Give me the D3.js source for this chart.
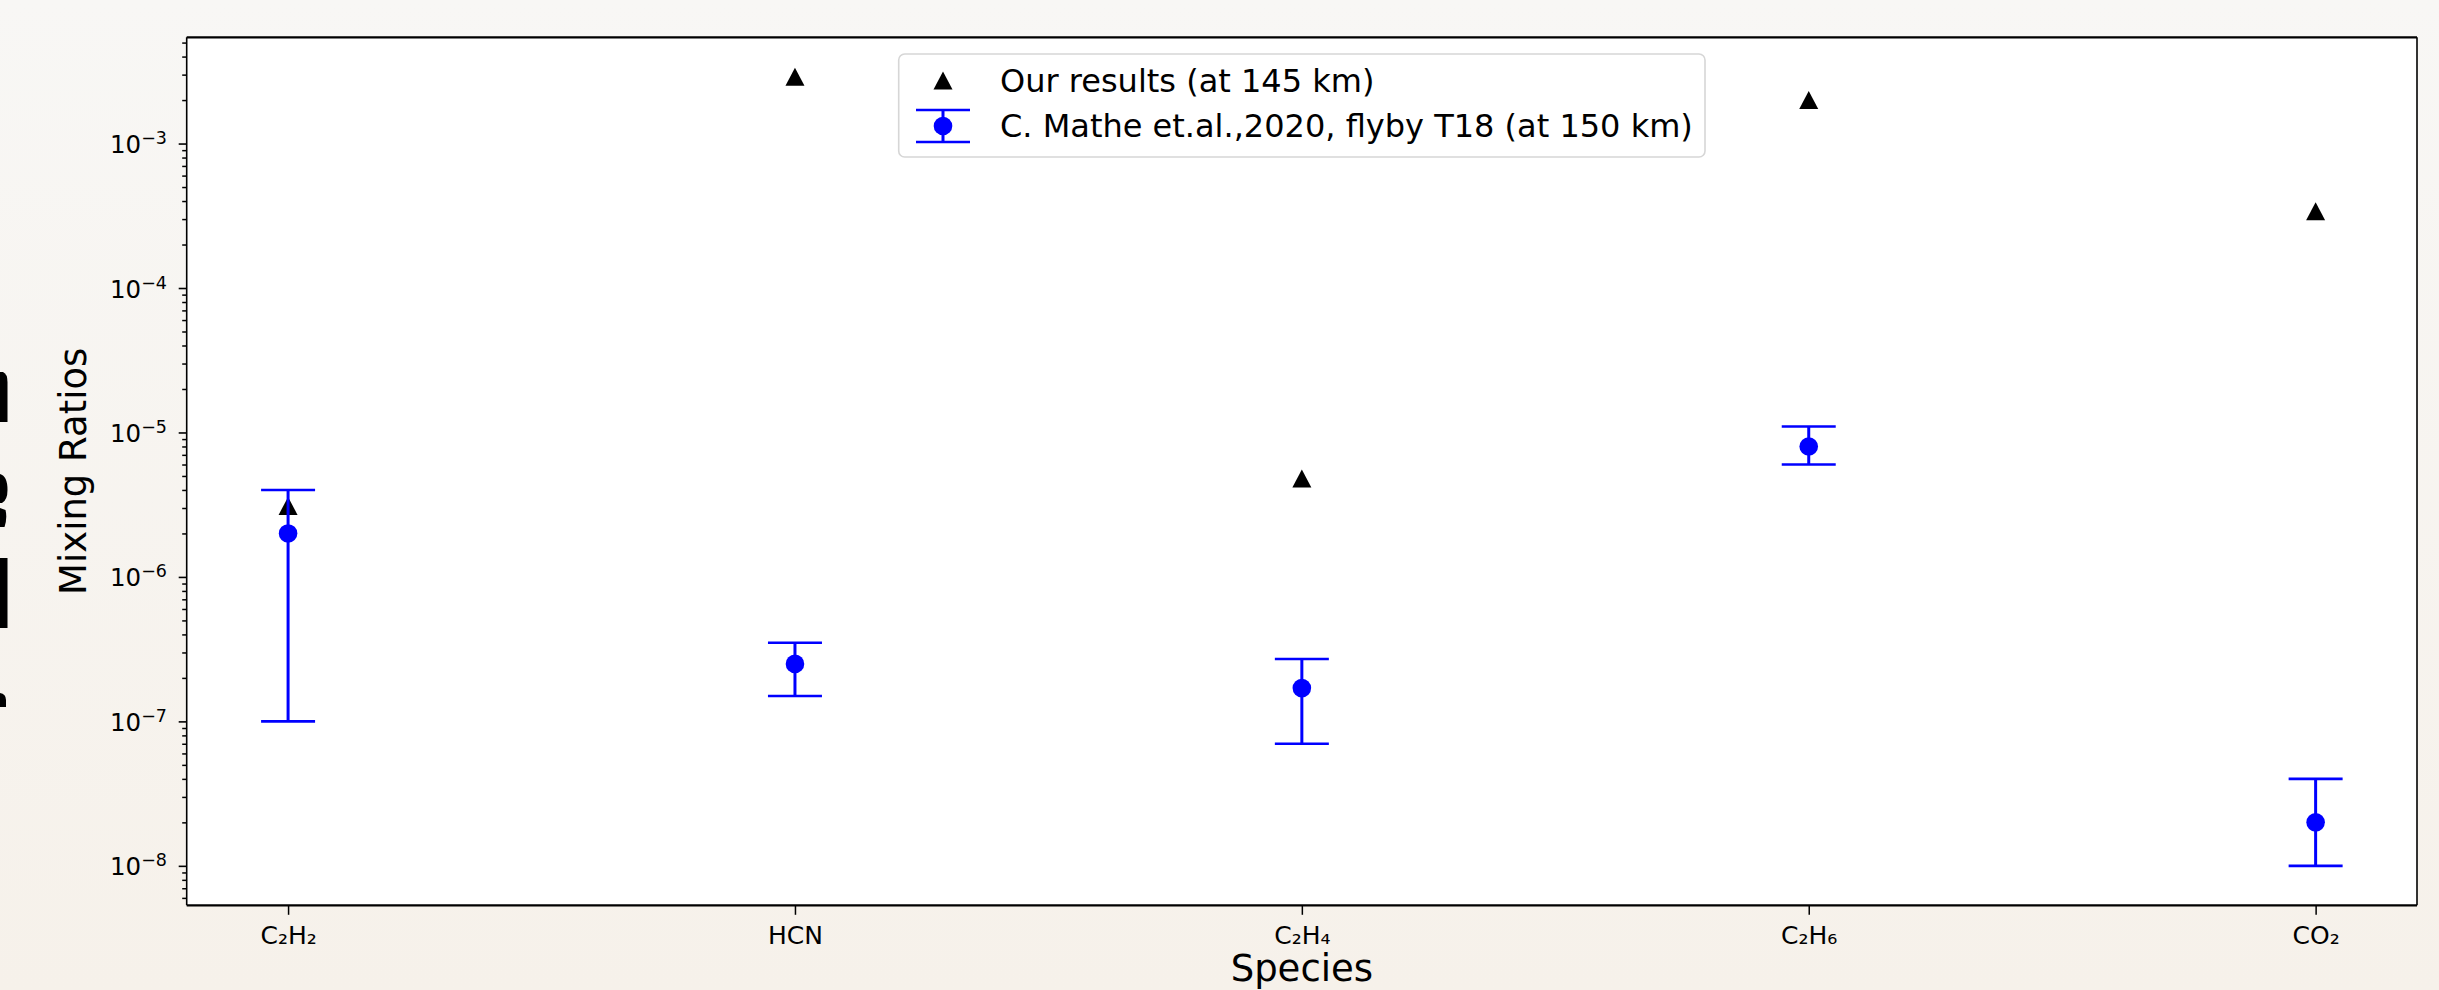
<!DOCTYPE html>
<html>
<head>
<meta charset="utf-8">
<script src="https://cdn.jsdelivr.net/npm/d3@7"></script>
<style>
  html, body { margin: 0; padding: 0; overflow: hidden; background: #f7f4ef; }
  svg { display: block; font-family: "DejaVu Sans", sans-serif; }
</style>
</head>
<body>
<svg id="chart" width="2439" height="990"></svg>
<script>
// ---- data -------------------------------------------------------------
const species = ["C₂H₂", "HCN", "C₂H₄", "C₂H₆", "CO₂"];
// model mixing ratios at 145 km
const ourResults = [3.1e-6, 2.9e-3, 4.8e-6, 2.0e-3, 3.4e-4];
// Mathé et al. 2020, flyby T18, 150 km: central value and error range
const matheValues = [2.0e-6, 2.5e-7, 1.7e-7, 8.0e-6, 2.0e-8];
const matheLower  = [1.0e-7, 1.5e-7, 7.0e-8, 6.0e-6, 1.0e-8];
const matheUpper  = [4.0e-6, 3.5e-7, 2.7e-7, 1.1e-5, 4.0e-8];
const yTickExponents = [-8, -7, -6, -5, -4, -3];
const legendLabels = ["Our results (at 145 km)", "C. Mathe et.al.,2020, flyby T18 (at 150 km)"];
const xTitle = "Species";
const yTitle = "Mixing Ratios";

// ---- layout -----------------------------------------------------------
const W = 2439, H = 990;
const plot = { left: 186.7, right: 2417, top: 37.3, bottom: 905.3 };
const BLUE = "#0000ff";

const svg = d3.select("#chart");
const defs = svg.append("defs");
const bg = defs.append("linearGradient").attr("id", "bg")
  .attr("x1", 0).attr("y1", 0).attr("x2", 0).attr("y2", 1);
bg.append("stop").attr("offset", "0%").attr("stop-color", "#f8f7f5");
bg.append("stop").attr("offset", "100%").attr("stop-color", "#f6f1ea");
svg.append("rect").attr("width", W).attr("height", H).attr("fill", "url(#bg)");

// fragment of a large dark heading bleeding in at the left edge
const edge = svg.append("g").attr("fill", "#000");
edge.append("path").attr("d", "M0,372 L3,372 Q7.5,374 7.5,382 L7.5,422 L0,422 Z");
edge.append("path").attr("d", "M0,474 Q7.5,476 7.5,490 Q7.5,500 2,503 L0,503 Z M0,508 L5.5,510 Q7.5,518 4.5,527 L0,527 Z");
edge.append("rect").attr("x", 0).attr("y", 558).attr("width", 7.5).attr("height", 70);
edge.append("path").attr("d", "M0,693 Q6,694 6,700 L6,707 L0,707 Z");

// axes background
svg.append("rect")
  .attr("x", plot.left).attr("y", plot.top)
  .attr("width", plot.right - plot.left).attr("height", plot.bottom - plot.top)
  .attr("fill", "#ffffff");

// ---- scales -----------------------------------------------------------
const x = d3.scalePoint().domain(species).range([plot.left, plot.right]).padding(0.2);

const logLo = Math.log10(d3.min(matheLower));
const logHi = Math.log10(d3.max([...ourResults, ...matheUpper]));
const margin = (logHi - logLo) * 0.05;
const y = d3.scaleLog()
  .domain([Math.pow(10, logLo - margin), Math.pow(10, logHi + margin)])
  .range([plot.bottom, plot.top]);

// ---- y axis (log, with minor ticks) -----------------------------------
const [yMin, yMax] = y.domain();
const minorTicks = [];
for (let e = -10; e <= -1; e++) {
  for (let m = 2; m <= 9; m++) {
    const v = m * Math.pow(10, e);
    if (v >= yMin && v <= yMax) minorTicks.push(v);
  }
}
const majorTicks = yTickExponents.map(e => Math.pow(10, e));

const yMinorG = svg.append("g").attr("transform", `translate(${plot.left},0)`)
  .call(d3.axisLeft(y).tickValues(minorTicks).tickSize(4.5).tickFormat(""));
yMinorG.select(".domain").remove();
yMinorG.selectAll(".tick line").attr("stroke", "#000").attr("stroke-width", 1.5);

const yMajorG = svg.append("g").attr("transform", `translate(${plot.left},0)`)
  .call(d3.axisLeft(y).tickValues(majorTicks).tickSize(8).tickPadding(11.7).tickFormat(""));
yMajorG.select(".domain").remove();
yMajorG.selectAll(".tick line").attr("stroke", "#000").attr("stroke-width", 1.6);
yMajorG.selectAll(".tick text").each(function (d) {
  const t = d3.select(this)
    .attr("dy", null).attr("y", 9)
    .attr("font-family", "DejaVu Sans").attr("font-size", 24.5).attr("fill", "#000");
  const exp = Math.round(Math.log10(d));
  t.append("tspan").text("10");
  t.append("tspan").attr("dy", -9).attr("font-size", 17.5).text("−" + Math.abs(exp));
});

// ---- x axis -----------------------------------------------------------
const xG = svg.append("g").attr("transform", `translate(0,${plot.bottom})`)
  .call(d3.axisBottom(x).tickSize(9.5));
xG.select(".domain").remove();
xG.selectAll(".tick line").attr("stroke", "#000").attr("stroke-width", 1.5);
xG.selectAll(".tick text")
  .attr("y", 38.7).attr("dy", 0)
  .attr("font-family", "DejaVu Sans").attr("font-size", 25).attr("fill", "#000");

// ---- axis titles ------------------------------------------------------
svg.append("text")
  .attr("x", (plot.left + plot.right) / 2).attr("y", 981)
  .attr("text-anchor", "middle").attr("font-size", 37).attr("fill", "#000")
  .text(xTitle);
svg.append("text")
  .attr("transform", `translate(85.7,${(plot.top + plot.bottom) / 2}) rotate(-90)`)
  .attr("text-anchor", "middle").attr("font-size", 37).attr("fill", "#000")
  .text(yTitle);

// ---- marks ------------------------------------------------------------
const triW = 19, triH = 18;
const triPath = `M0,${-triH / 2} L${triW / 2},${triH / 2} L${-triW / 2},${triH / 2} Z`;

svg.append("g").selectAll("path.tri")
  .data(species)
  .join("path")
  .attr("class", "tri")
  .attr("d", triPath)
  .attr("transform", (s, i) => `translate(${x(s)},${y(ourResults[i])})`)
  .attr("fill", "#000");

const capHalf = 27;
const eb = svg.append("g").selectAll("g.eb")
  .data(species)
  .join("g").attr("class", "eb");
eb.append("line")
  .attr("x1", s => x(s)).attr("x2", s => x(s))
  .attr("y1", (s, i) => y(matheLower[i])).attr("y2", (s, i) => y(matheUpper[i]))
  .attr("stroke", BLUE).attr("stroke-width", 3);
eb.append("line")
  .attr("x1", s => x(s) - capHalf).attr("x2", s => x(s) + capHalf)
  .attr("y1", (s, i) => y(matheUpper[i])).attr("y2", (s, i) => y(matheUpper[i]))
  .attr("stroke", BLUE).attr("stroke-width", 2.6);
eb.append("line")
  .attr("x1", s => x(s) - capHalf).attr("x2", s => x(s) + capHalf)
  .attr("y1", (s, i) => y(matheLower[i])).attr("y2", (s, i) => y(matheLower[i]))
  .attr("stroke", BLUE).attr("stroke-width", 2.6);
eb.append("circle")
  .attr("cx", s => x(s)).attr("cy", (s, i) => y(matheValues[i]))
  .attr("r", 9.3).attr("fill", BLUE);

// ---- spines -----------------------------------------------------------
const spines = svg.append("g").attr("stroke", "#000");
spines.append("line").attr("x1", plot.left).attr("x2", plot.right)
  .attr("y1", plot.top).attr("y2", plot.top).attr("stroke-width", 2.2);
spines.append("line").attr("x1", plot.left).attr("x2", plot.right)
  .attr("y1", plot.bottom).attr("y2", plot.bottom).attr("stroke-width", 2.2);
spines.append("line").attr("x1", plot.left).attr("x2", plot.left)
  .attr("y1", plot.top).attr("y2", plot.bottom).attr("stroke-width", 1.6);
spines.append("line").attr("x1", plot.right).attr("x2", plot.right)
  .attr("y1", plot.top).attr("y2", plot.bottom).attr("stroke-width", 1.6);

// ---- legend -----------------------------------------------------------
const lg = svg.append("g");
lg.append("rect")
  .attr("x", 898.7).attr("y", 54).attr("width", 806.3).attr("height", 103)
  .attr("rx", 6).attr("fill", "#ffffff").attr("fill-opacity", 0.8)
  .attr("stroke", "#d6d6d6").attr("stroke-width", 1.6);

const keyX = 943;
const rowY = [80.5, 126];
lg.append("path").attr("d", triPath).attr("transform", `translate(${keyX},${rowY[0]})`).attr("fill", "#000");
lg.append("line").attr("x1", keyX).attr("x2", keyX).attr("y1", rowY[1] - 16).attr("y2", rowY[1] + 16)
  .attr("stroke", BLUE).attr("stroke-width", 3);
[-16, 16].forEach(dy => {
  lg.append("line").attr("x1", keyX - capHalf).attr("x2", keyX + capHalf)
    .attr("y1", rowY[1] + dy).attr("y2", rowY[1] + dy)
    .attr("stroke", BLUE).attr("stroke-width", 2.6);
});
lg.append("circle").attr("cx", keyX).attr("cy", rowY[1]).attr("r", 9.3).attr("fill", BLUE);

lg.selectAll("text.lab")
  .data(legendLabels)
  .join("text")
  .attr("class", "lab")
  .attr("x", 1000)
  .attr("y", (d, i) => rowY[i] + 11)
  .attr("font-size", 32).attr("fill", "#000")
  .text(d => d);
</script>
</body>
</html>
